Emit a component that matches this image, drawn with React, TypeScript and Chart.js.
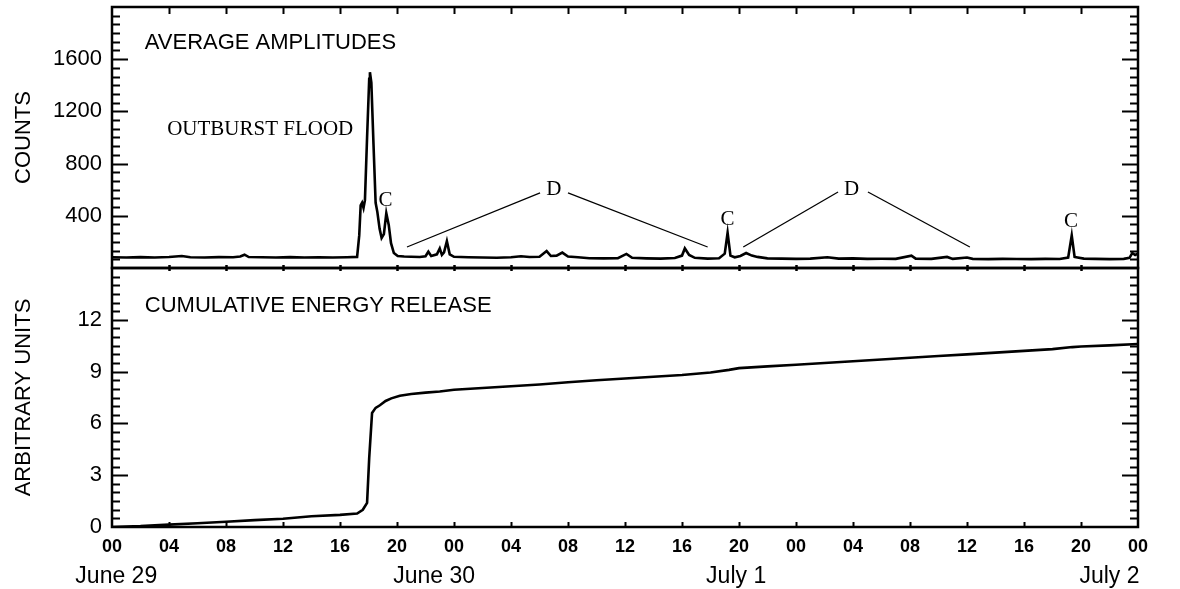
import React, { useEffect, useRef } from "react";
import { Chart, registerables } from "chart.js";

Chart.register(...registerables);

// ---------- data ----------
const hourTicks = [0, 4, 8, 12, 16, 20, 24, 28, 32, 36, 40, 44, 48, 52, 56, 60, 64, 68, 72];
const hourTickLabels = ["00", "04", "08", "12", "16", "20", "00", "04", "08", "12", "16", "20", "00", "04", "08", "12", "16", "20", "00"];
const dayLabels = ["June 29", "June 30", "July 1", "July 2"];
const dayLabelHours = [0.3, 22.6, 43.8, 70.0];

const countTicks = [400, 800, 1200, 1600];
const energyTicks = [0, 3, 6, 9, 12];

const ampHours = [
  0, 1, 2, 3, 4, 4.9, 5.5, 6.5, 7.5, 8.5, 9.0, 9.3, 9.6, 10.5, 11.5, 12.5, 13.5, 14.5, 15.5, 16.5,
  17.2, 17.35, 17.45, 17.55, 17.65, 17.75, 17.9, 18.05, 18.1, 18.2, 18.35, 18.5, 18.62, 18.78, 18.92,
  19.08, 19.25, 19.42, 19.58, 19.78, 20.05, 20.5, 21, 21.6, 22, 22.2, 22.4, 22.8, 23.0, 23.15, 23.3,
  23.5, 23.7, 24, 25, 26, 27, 28, 28.7, 29.3, 30, 30.5, 30.8, 31.2, 31.6, 32, 32.7, 33.5, 34.5, 35.5,
  36.1, 36.5, 37.5, 38.5, 39.5, 40.0, 40.2, 40.5, 40.9, 41.8, 42.6, 43.0, 43.2, 43.4, 43.7, 44.1, 44.5,
  44.9, 45.3, 46, 47, 48, 49, 50.2, 51, 52, 53, 54, 55, 56.1, 56.4, 57.5, 58.6, 59, 60, 60.4, 61.5,
  62.5, 63.5, 64.5, 65.5, 66.5, 67.1, 67.35, 67.55, 68.2, 69, 70, 71, 71.4, 71.6, 71.8, 72,
];
const ampCounts = [
  82, 80, 83, 81, 84, 92, 82, 80, 83, 82, 88, 102, 84, 82, 80, 83, 81, 82, 80, 82,
  85, 250, 480, 500, 460, 520, 1000, 1450, 1500, 1420, 950, 500, 430, 300, 230,
  260, 420, 330, 190, 115, 92, 88, 86, 84, 90, 125, 92, 105, 150, 100, 120,
  205, 105, 86, 82, 80, 78, 82, 90, 84, 86, 130, 92, 95, 118, 88, 82, 75, 74, 76,
  108, 78, 74, 72, 76, 95, 150, 100, 78, 72, 75, 110, 270, 95, 82, 92, 115,
  95, 85, 74, 72, 70, 72, 82, 72, 74, 70, 71, 70, 95, 72, 70, 85, 70, 80, 70, 68,
  70, 69, 68, 70, 69, 80, 250, 85, 72, 70, 68, 70, 78, 115, 100, 110,
];

const energyHours = [
  0, 2, 4, 6, 8, 10, 12, 13, 14, 16, 17.2, 17.6, 17.9, 18.05, 18.25, 18.5, 18.8, 19.2, 19.6, 20.2,
  21, 22, 23, 24, 26, 28, 30, 32, 34, 36, 38, 40, 42, 43.3, 44, 46, 48, 50, 52, 54, 56, 58, 60,
  62, 64, 66, 67.4, 68, 70, 72,
];
const energyValues = [
  0, 0.05, 0.14, 0.22, 0.3, 0.4, 0.48, 0.55, 0.62, 0.7, 0.78, 1.0, 1.4, 4.0, 6.6, 6.9, 7.05, 7.3, 7.45, 7.6,
  7.7, 7.78, 7.85, 7.95, 8.05, 8.15, 8.25, 8.38, 8.5, 8.6, 8.7, 8.8, 8.95, 9.1, 9.2, 9.3, 9.4, 9.5, 9.6, 9.7,
  9.8, 9.9, 10.0, 10.1, 10.2, 10.3, 10.42, 10.45, 10.52, 10.6,
];

// leader lines from the "D" labels
const leaderHours = [[20.7, 30.04], [32.0, 41.8], [44.3, 50.95], [53.05, 60.2]];
const leaderCounts = [[161, 575], [575, 161], [161, 582], [582, 161]];

// annotation labels (top panel)
const topNoteTexts = ["OUTBURST FLOOD", "C", "D", "C", "D", "C"];
const topNoteHours = [10.4, 19.2, 31.0, 43.2, 51.9, 67.3];
const topNoteCounts = [1061, 521, 605, 375, 598, 360];

const SANS = "'Liberation Sans', Arial, Helvetica, sans-serif";
const SERIF = "'Liberation Serif', 'Times New Roman', serif";

// ---------- plugins ----------
const framePlugin = {
  id: "frame",
  afterDatasetsDraw(chart: any, _args: any, opts: any) {
    const { ctx, chartArea, scales } = chart;
    const { left, right, top, bottom } = chartArea;
    const y = scales.y;
    const x = scales.x;
    ctx.save();
    ctx.strokeStyle = "#000";
    ctx.lineWidth = 2.5;
    ctx.strokeRect(left, top, right - left, bottom - top);
    ctx.lineWidth = 2;
    ctx.beginPath();
    const n = Math.round((y.max - y.min) / opts.minorStep);
    for (let i = 1; i < n; i++) {
      const v = y.min + i * opts.minorStep;
      const py = Math.round(y.getPixelForValue(v)) + 0.5;
      const isMajor = opts.majorTicks.some((m: number) => Math.abs(m - v) < 1e-6);
      const len = isMajor ? 16 : 8;
      ctx.moveTo(left, py);
      ctx.lineTo(left + len, py);
      ctx.moveTo(right, py);
      ctx.lineTo(right - len, py);
    }
    for (const h of hourTicks) {
      if (h === x.min || h === x.max) continue;
      const px = Math.round(x.getPixelForValue(h)) + 0.5;
      if (opts.topDown) {
        ctx.moveTo(px, top);
        ctx.lineTo(px, top + opts.topDown);
      }
      if (opts.topUp) {
        ctx.moveTo(px, top);
        ctx.lineTo(px, top - opts.topUp);
      }
      if (opts.bottomUp) {
        ctx.moveTo(px, bottom);
        ctx.lineTo(px, bottom - opts.bottomUp);
      }
      if (opts.bottomDown) {
        ctx.moveTo(px, bottom);
        ctx.lineTo(px, bottom + opts.bottomDown);
      }
    }
    ctx.stroke();
    ctx.restore();
  },
};

const notesPlugin = {
  id: "notes",
  afterDatasetsDraw(chart: any, _args: any, opts: any) {
    const { ctx, scales } = chart;
    const x = scales.x;
    const y = scales.y;
    ctx.save();
    ctx.fillStyle = "#000";
    for (const note of opts.items || []) {
      ctx.font = note.font;
      ctx.textAlign = note.align || "center";
      ctx.textBaseline = "middle";
      ctx.fillText(note.text, x.getPixelForValue(note.x), y.getPixelForValue(note.y));
    }
    if (opts.dayLabels) {
      ctx.font = `23px ${SANS}`;
      ctx.textAlign = "center";
      ctx.textBaseline = "middle";
      dayLabels.forEach((t, i) => {
        ctx.fillText(t, x.getPixelForValue(dayLabelHours[i]), chart.chartArea.bottom + 50);
      });
    }
    ctx.restore();
  },
};

function yAxis(min: number, max: number, ticks: number[], title: string) {
  return {
    min,
    max,
    afterFit: (s: any) => {
      s.width = 112;
      s.paddingTop = 0;
      s.paddingBottom = 0;
    },
    afterBuildTicks: (s: any) => {
      s.ticks = ticks.map((v) => ({ value: v }));
    },
    grid: { display: false, drawTicks: false },
    border: { display: false },
    ticks: {
      color: "#000",
      font: { family: SANS, size: 22 },
      padding: 10,
      callback: (v: any) => String(v),
    },
    title: {
      display: true,
      text: title,
      color: "#000",
      font: { family: SANS, size: 22 },
      padding: { top: 11, bottom: 0 },
    },
  };
}

export default function App() {
  const topRef = useRef<HTMLCanvasElement | null>(null);
  const botRef = useRef<HTMLCanvasElement | null>(null);

  useEffect(() => {
    Chart.defaults.color = "#000";
    const leaderSets = leaderHours.map((hs, i) => ({
      data: hs.map((h, j) => ({ x: h, y: leaderCounts[i][j] })),
      borderColor: "#000",
      borderWidth: 1.3,
      pointRadius: 0,
    }));
    const topChart = new Chart(topRef.current as HTMLCanvasElement, {
      type: "line",
      data: {
        datasets: [
          {
            data: ampHours.map((h, i) => ({ x: h, y: ampCounts[i] })),
            borderColor: "#000",
            borderWidth: 2.6,
            pointRadius: 0,
            tension: 0,
          },
          ...leaderSets,
        ],
      },
      options: {
        responsive: false,
        animation: false,
        events: [],
        layout: { padding: { left: 0, right: 42, top: 7, bottom: 7 } },
        plugins: {
          legend: { display: false },
          tooltip: { enabled: false },
          frame: { minorStep: 2000 / 30, majorTicks: countTicks, topDown: 7, bottomUp: 3, bottomDown: 3 },
          notes: {
            items: [
              { text: "AVERAGE AMPLITUDES", x: 2.3, y: 1728, align: "left", font: `22px ${SANS}` },
              ...topNoteTexts.map((t, i) => ({
                text: t,
                x: topNoteHours[i],
                y: topNoteCounts[i],
                font: `21px ${SERIF}`,
              })),
            ],
          },
        } as any,
        scales: {
          x: { type: "linear", min: 0, max: 72, display: false },
          y: yAxis(0, 2000, countTicks, "COUNTS") as any,
        },
      },
      plugins: [framePlugin, notesPlugin],
    });

    const botChart = new Chart(botRef.current as HTMLCanvasElement, {
      type: "line",
      data: {
        datasets: [
          {
            data: energyHours.map((h, i) => ({ x: h, y: energyValues[i] })),
            borderColor: "#000",
            borderWidth: 2.6,
            pointRadius: 0,
            tension: 0,
          },
        ],
      },
      options: {
        responsive: false,
        animation: false,
        events: [],
        layout: { padding: { left: 0, right: 42, top: 8, bottom: 0 } },
        plugins: {
          legend: { display: false },
          tooltip: { enabled: false },
          frame: { minorStep: 0.5, majorTicks: energyTicks, topUp: 3, topDown: 3, bottomUp: 5 },
          notes: {
            items: [
              { text: "CUMULATIVE ENERGY RELEASE", x: 2.3, y: 12.83, align: "left", font: `22px ${SANS}` },
            ],
            dayLabels: true,
          },
        } as any,
        scales: {
          x: {
            type: "linear",
            min: 0,
            max: 72,
            afterFit: (s: any) => {
              s.height = 62;
              s.paddingLeft = 0;
              s.paddingRight = 0;
            },
            afterBuildTicks: (s: any) => {
              s.ticks = hourTicks.map((v) => ({ value: v }));
            },
            grid: { display: false, drawTicks: false },
            border: { display: false },
            ticks: {
              color: "#000",
              maxRotation: 0,
              autoSkip: false,
              padding: 9,
              font: { family: SANS, size: 18, weight: "bold" },
              callback: (_v: any, idx: number) => hourTickLabels[idx],
            },
          } as any,
          y: yAxis(0, 15, energyTicks, "ARBITRARY UNITS") as any,
        },
      },
      plugins: [framePlugin, notesPlugin],
    });

    return () => {
      topChart.destroy();
      botChart.destroy();
    };
  }, []);

  return (
    <div style={{ position: "absolute", left: 0, top: 0, width: 1180, height: 589, background: "#fff" }}>
      <canvas ref={topRef} width={1180} height={275} style={{ position: "absolute", left: 0, top: 0 }} />
      <canvas ref={botRef} width={1180} height={329} style={{ position: "absolute", left: 0, top: 260 }} />
    </div>
  );
}
